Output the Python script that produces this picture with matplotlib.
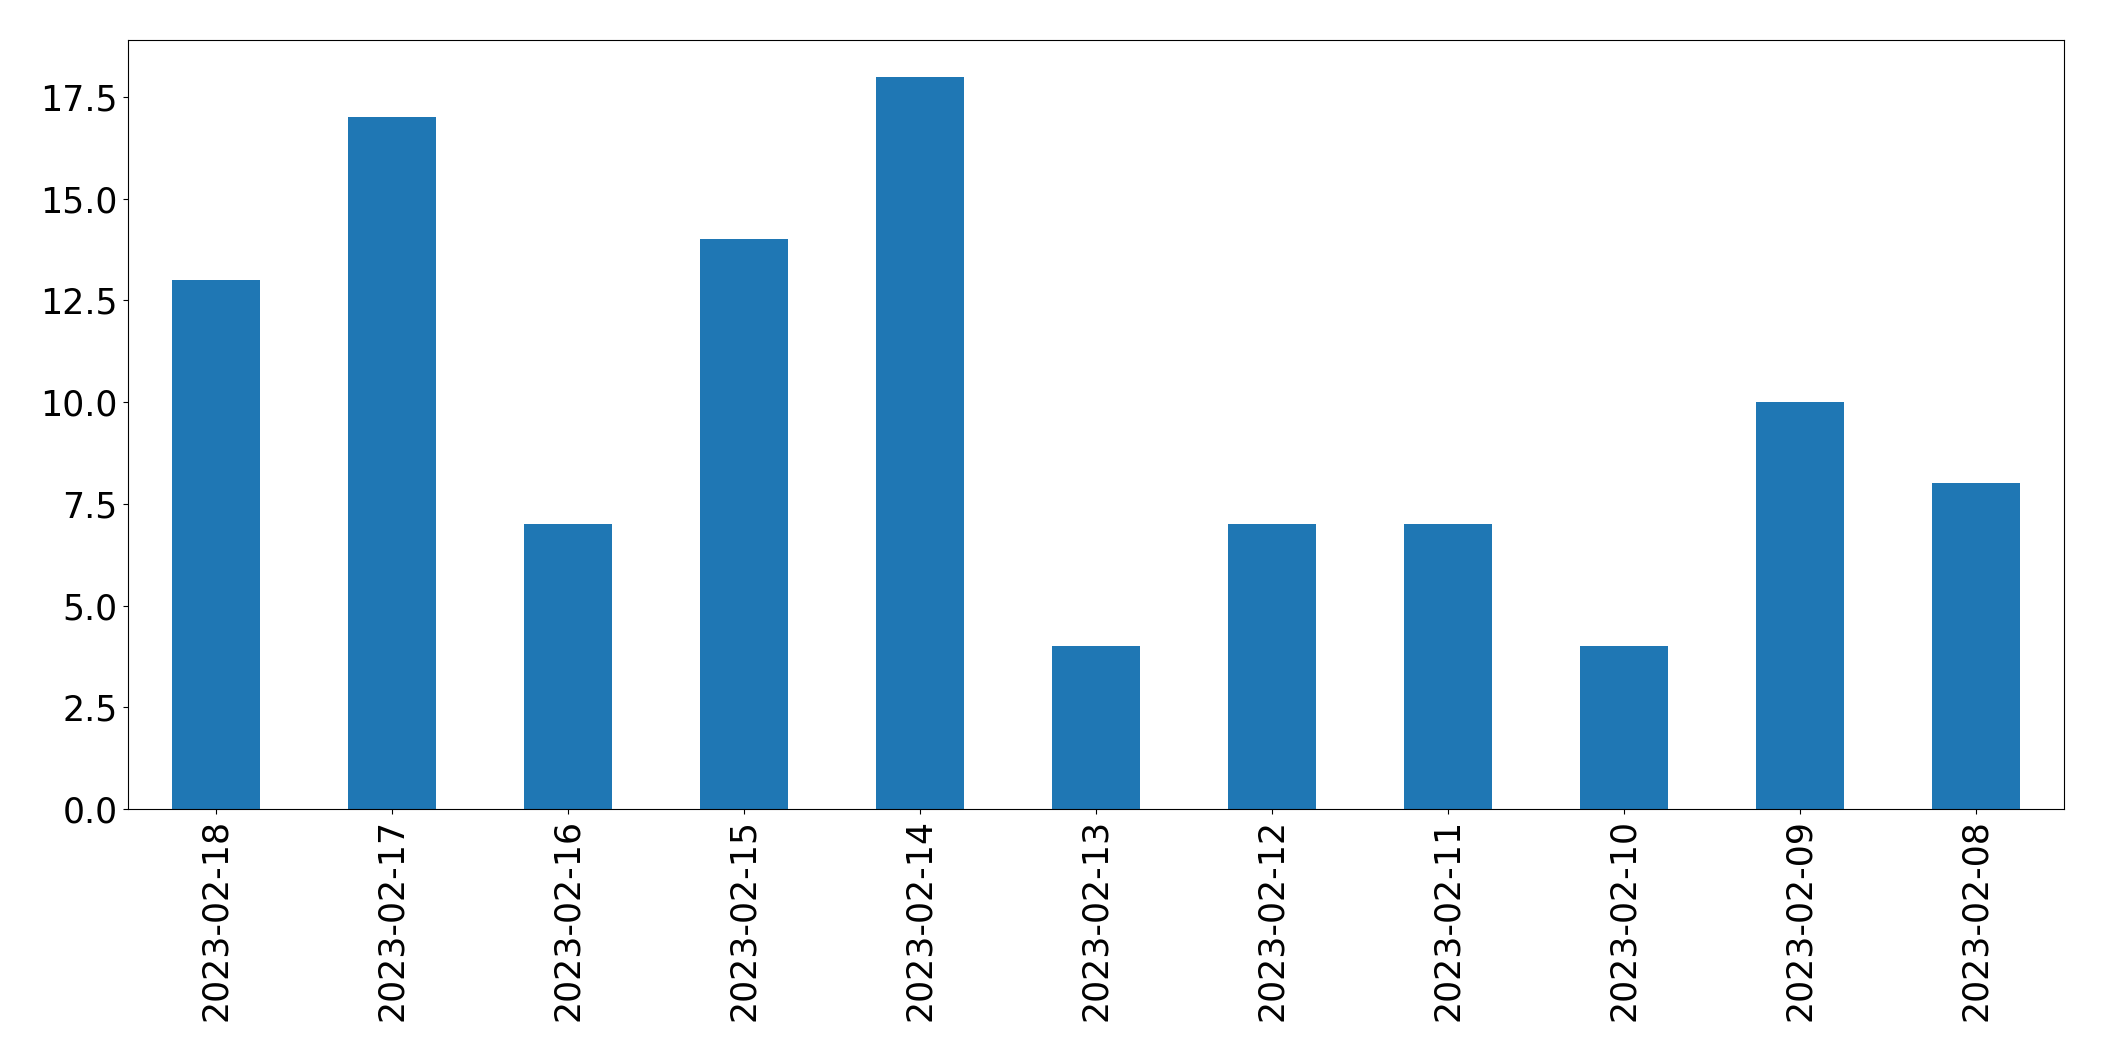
import matplotlib
matplotlib.use("Agg")
import matplotlib.pyplot as plt
import pandas as pd

# data
dates = ['2023-02-18', '2023-02-17', '2023-02-16', '2023-02-15', '2023-02-14',
         '2023-02-13', '2023-02-12', '2023-02-11', '2023-02-10', '2023-02-09',
         '2023-02-08']
counts = [13, 17, 7, 14, 18, 4, 7, 7, 4, 10, 8]

series = pd.Series(counts, index=dates)

fig = plt.figure(figsize=(21.04, 10.61), dpi=100)
ax = fig.add_axes([127.5 / 2104, 1 - 809 / 1061, (2064 - 127.5) / 2104, (809 - 40) / 1061])
series.plot(kind='bar', ax=ax, color='#1f77b4')
ax.tick_params(axis='both', labelsize=25)

fig.savefig('out.png', dpi=100)
